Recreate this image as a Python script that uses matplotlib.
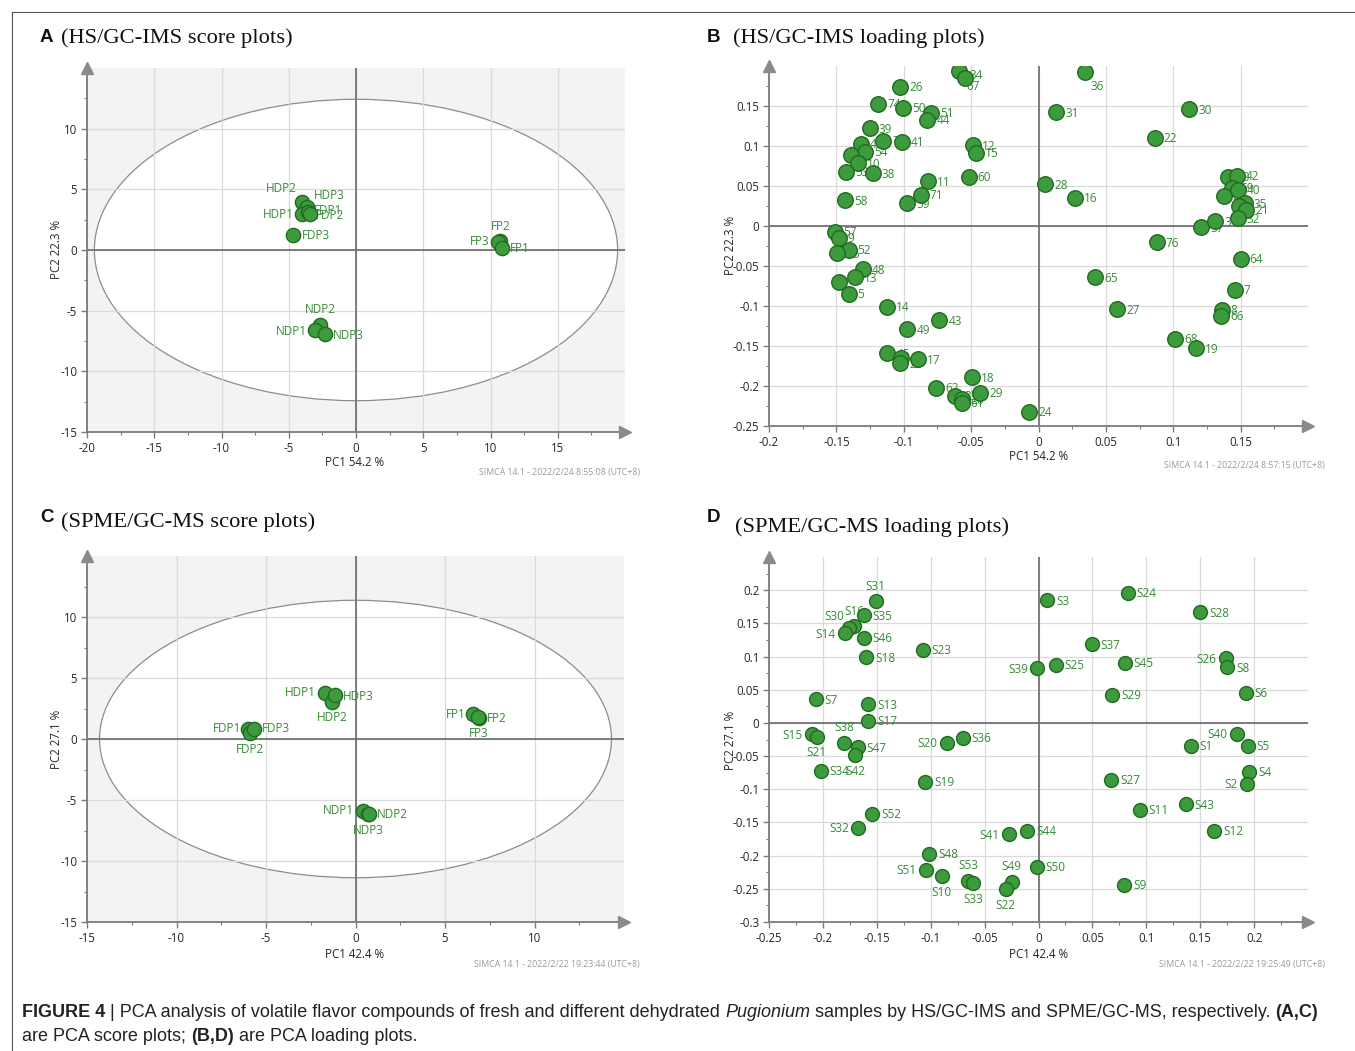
import matplotlib
matplotlib.use('Agg')
import matplotlib.pyplot as plt
from matplotlib.patches import Ellipse
from matplotlib.ticker import FixedLocator, FuncFormatter, AutoMinorLocator
from matplotlib import font_manager

plt.rcParams['axes.unicode_minus'] = False

W, H = 1355, 1051

# ---------------- data ----------------
# Panel A: HS/GC-IMS scores
A_labels = ['HDP2', 'HDP3', 'HDP1', 'FDP1', 'FDP2', 'FDP3', 'FP2', 'FP3', 'FP1', 'NDP2', 'NDP1', 'NDP3']
A_x = [-4.04, -3.62, -4.04, -3.55, -3.45, -4.66, 10.72, 10.55, 10.84, -2.65, -3.03, -2.30]
A_y = [3.96, 3.57, 2.94, 3.15, 2.95, 1.24, 0.74, 0.69, 0.19, -6.18, -6.62, -6.95]

# Panel B: HS/GC-IMS loadings
B_labels = ['34', '67', '26', '74', '50', '51', '44', '39', '78', '41', '46', '54', '56', '10',
            '53', '38', '58', '11', '71', '59', '12', '15', '60', '57', '9', '52', '55', '48',
            '13', '4', '5', '14', '43', '49', '45', '47', '23', '17', '18', '62', '29', '33',
            '20', '61', '24', '36', '31', '30', '22', '28', '16', '76', '37', '3', '70', '42',
            '69', '40', '2', '35', '1', '21', '32', '64', '65', '7', '27', '8', '66', '68', '19']
B_x = [-0.0587, -0.0545, -0.1025, -0.1190, -0.1003, -0.0797, -0.0825, -0.1253, -0.1154, -0.1013,
       -0.1320, -0.1288, -0.1395, -0.1342, -0.1426, -0.1231, -0.1434, -0.0820, -0.0874, -0.0978,
       -0.0488, -0.0466, -0.0518, -0.1513, -0.1484, -0.1410, -0.1495, -0.1305, -0.1365, -0.1478,
       -0.1409, -0.1127, -0.0736, -0.0973, -0.1122, -0.1018, -0.1028, -0.0894, -0.0493, -0.0760,
       -0.0431, -0.0619, -0.0570, -0.0570, -0.0070, 0.0344, 0.0131, 0.1117, 0.0864, 0.0050,
       0.0270, 0.0879, 0.1206, 0.1313, 0.1404, 0.1471, 0.1434, 0.1481, 0.1374, 0.1530,
       0.1488, 0.1543, 0.1478, 0.1500, 0.0421, 0.1456, 0.0585, 0.1360, 0.1357, 0.1015, 0.1171]
B_y = [0.1940, 0.1846, 0.1740, 0.1530, 0.1480, 0.1417, 0.1325, 0.1220, 0.1067, 0.1054,
       0.1030, 0.0929, 0.0888, 0.0783, 0.0675, 0.0658, 0.0321, 0.0558, 0.0390, 0.0283,
       0.1010, 0.0917, 0.0617, -0.0071, -0.0146, -0.0300, -0.0338, -0.0538, -0.0642, -0.0696,
       -0.0850, -0.1008, -0.1180, -0.1288, -0.1590, -0.1646, -0.1717, -0.1667, -0.1890, -0.2020,
       -0.2083, -0.2125, -0.2167, -0.2210, -0.2320, 0.1920, 0.1420, 0.1458, 0.1104, 0.0520,
       0.0354, -0.0204, -0.0017, 0.0062, 0.0617, 0.0629, 0.0479, 0.0450, 0.0375, 0.0283,
       0.0254, 0.0200, 0.0096, -0.0410, -0.0638, -0.0800, -0.1042, -0.1050, -0.1125, -0.1408, -0.1530]

# Panel C: SPME/GC-MS scores
C_labels = ['HDP1', 'HDP2', 'HDP3', 'FDP1', 'FDP2', 'FDP3', 'FP1', 'FP3', 'FP2', 'NDP1', 'NDP3', 'NDP2']
C_x = [-1.72, -1.32, -1.15, -6.00, -5.90, -5.67, 6.58, 6.90, 6.87, 0.44, 0.70, 0.73]
C_y = [3.80, 3.06, 3.60, 0.82, 0.46, 0.82, 2.02, 1.75, 1.80, -5.87, -6.17, -6.12]

# Panel D: SPME/GC-MS loadings
D_labels = ['S31', 'S35', 'S16', 'S30', 'S14', 'S46', 'S18', 'S23', 'S39', 'S7', 'S13', 'S17',
            'S15', 'S21', 'S38', 'S47', 'S42', 'S34', 'S20', 'S36', 'S19', 'S52', 'S32', 'S41',
            'S44', 'S48', 'S51', 'S10', 'S53', 'S33', 'S49', 'S22', 'S50', 'S3', 'S24', 'S28',
            'S37', 'S25', 'S45', 'S29', 'S26', 'S8', 'S6', 'S40', 'S1', 'S5', 'S4', 'S2', 'S27',
            'S11', 'S43', 'S12', 'S9']
D_x = [-0.1512, -0.1623, -0.1707, -0.1760, -0.1797, -0.1623, -0.1598, -0.1073, -0.0016, -0.2066,
       -0.1580, -0.1580, -0.2103, -0.2057, -0.1800, -0.1679, -0.1698, -0.2019, -0.0850, -0.0702,
       -0.1051, -0.1543, -0.1673, -0.0275, -0.0105, -0.1014, -0.1045, -0.0897, -0.0652, -0.0603,
       -0.0250, -0.0306, -0.0016, 0.0083, 0.0826, 0.1497, 0.0495, 0.0158, 0.0798, 0.0686,
       0.1735, 0.1753, 0.1923, 0.1837, 0.1413, 0.1942, 0.1957, 0.1932, 0.0674, 0.0940,
       0.1364, 0.1630, 0.0792]
D_y = [0.1833, 0.1626, 0.1466, 0.1426, 0.1350, 0.1280, 0.0990, 0.1100, 0.0823, 0.0357,
       0.0281, 0.0035, -0.0170, -0.0206, -0.0296, -0.0366, -0.0482, -0.0723, -0.0296, -0.0221,
       -0.0884, -0.1370, -0.1580, -0.1680, -0.1627, -0.1968, -0.2210, -0.2309, -0.2375, -0.2415,
       -0.2390, -0.2505, -0.2164, 0.1848, 0.1963, 0.1667, 0.1185, 0.0878, 0.0908, 0.0427,
       0.0974, 0.0838, 0.0457, -0.0166, -0.0346, -0.0346, -0.0738, -0.0919, -0.0853, -0.1310,
       -0.1225, -0.1627, -0.2435]

# ---------------- label placement (pixel offsets, alignment) ----------------
R = (9, -1, 'left')
L = (-9, -1, 'right')
U = (0, 15, 'center')
Dn = (0, -16, 'center')

A_pos = {'HDP2': (-5, 13, 'right'), 'HDP3': (7, 11, 'left'), 'HDP1': (-8, 0, 'right'),
         'FDP1': (6, 1, 'left'), 'FDP2': (6, -1, 'left'), 'FDP3': (9, -1, 'left'),
         'FP2': (1, 15, 'center'), 'FP3': (-8, 0, 'right'), 'FP1': (8, -1, 'left'),
         'NDP2': (0, 15, 'center'), 'NDP1': (-8, -1, 'right'), 'NDP3': (8, -1, 'left')}
C_pos = {'HDP1': (-9, 0, 'right'), 'HDP3': (8, -1, 'left'), 'HDP2': (0, -16, 'center'),
         'FDP1': (-7, 0, 'right'), 'FDP3': (8, 0, 'left'), 'FDP2': (0, -16, 'center'),
         'FP1': (-8, 0, 'right'), 'FP2': (8, -1, 'left'), 'FP3': (0, -16, 'center'),
         'NDP1': (-9, 0, 'right'), 'NDP2': (8, -1, 'left'), 'NDP3': (0, -16, 'center')}
B_pos = {'36': (6, -14, 'left'), '34': (10, -5, 'left'), '67': (1, -8, 'left')}
D_pos = {'S31': U, 'S16': (0, 14, 'center'), 'S30': (-5, 12, 'right'), 'S14': L, 'S39': L,
         'S15': L, 'S21': Dn, 'S38': U, 'S42': (0, -17, 'center'), 'S20': L, 'S32': L,
         'S41': L, 'S51': L, 'S10': Dn, 'S53': U, 'S33': Dn, 'S49': U, 'S22': Dn,
         'S26': L, 'S40': L, 'S2': L}

# ---------------- style ----------------
FILL = '#3d9a3d'
EDGE = '#216b21'
TXT_G = '#378a37'
GRID = '#dadada'
AXC = '#7b7b7b'
SANS = ['Open Sans', 'DejaVu Sans']


def fx(px):
    return px / W


def fy(py):
    return 1 - py / H


fig = plt.figure(figsize=(W / 100, H / 100), dpi=100)


def fmt(v, pos):
    return '%g' % round(v, 4)


def make_axes(rect_px, xlim, ylim, xticks, yticks, gray, ellipse=None):
    x0, y0, x1, y1 = rect_px
    ax = fig.add_axes([fx(x0), fy(y1), (x1 - x0) / W, (y1 - y0) / H])
    ax.set_xlim(*xlim)
    ax.set_ylim(*ylim)
    ax.set_facecolor('#f3f3f3' if gray else 'white')
    if ellipse is not None:
        e = Ellipse((0, 0), 2 * ellipse[0], 2 * ellipse[1], facecolor='white',
                    edgecolor='#8c8c8c', lw=0.9, zorder=0.5)
        ax.add_patch(e)
    ax.xaxis.set_major_locator(FixedLocator(xticks))
    ax.yaxis.set_major_locator(FixedLocator(yticks))
    ax.xaxis.set_minor_locator(AutoMinorLocator(2))
    ax.yaxis.set_minor_locator(AutoMinorLocator(2))
    ax.xaxis.set_major_formatter(FuncFormatter(fmt))
    ax.yaxis.set_major_formatter(FuncFormatter(fmt))
    ax.grid(True, which='major', color=GRID, lw=0.9, zorder=0.8)
    ax.set_axisbelow(True)
    for s in ['top', 'right']:
        ax.spines[s].set_visible(False)
    for s in ['left', 'bottom']:
        ax.spines[s].set_color(AXC)
        ax.spines[s].set_linewidth(1.3)
    ax.tick_params(which='major', length=4, width=1, color=AXC, labelsize=8.3,
                   labelcolor='#262626', pad=3)
    ax.tick_params(which='minor', length=2.5, width=0.8, color=AXC)
    for lab in ax.get_xticklabels() + ax.get_yticklabels():
        lab.set_family(SANS)
    ax.axhline(0, color='#6a6a6a', lw=1.2, zorder=1)
    ax.axvline(0, color='#6a6a6a', lw=1.2, zorder=1)
    ax.plot([1.0], [0], marker='>', ms=8, color='#8a8a8a', transform=ax.transAxes,
            clip_on=False, zorder=5)
    ax.plot([0], [1.0], marker='^', ms=8, color='#8a8a8a', transform=ax.transAxes,
            clip_on=False, zorder=5)
    return ax


def draw_points(ax, labels, xs, ys, pos, size):
    ax.scatter(xs, ys, s=size, facecolor=FILL, edgecolor=EDGE, linewidth=1.0, zorder=3)
    for lab, x, y in zip(labels, xs, ys):
        dx, dy, ha = pos.get(lab, R)
        ax.annotate(lab, (x, y), xytext=(dx, dy), textcoords='offset pixels', ha=ha,
                    va='center', fontsize=8.5, color=TXT_G, family=SANS, zorder=2.5)


# Panel A
axA = make_axes((87, 68, 625, 432), (-20, 20), (-15, 15), [-20, -15, -10, -5, 0, 5, 10, 15],
                [-15, -10, -5, 0, 5, 10], True, ellipse=(19.45, 12.42))
draw_points(axA, A_labels, A_x, A_y, A_pos, 105)

# Panel B
axB = make_axes((769, 66, 1308, 426), (-0.2, 0.2), (-0.25, 0.2),
                [-0.2, -0.15, -0.1, -0.05, 0, 0.05, 0.1, 0.15],
                [-0.25, -0.2, -0.15, -0.1, -0.05, 0, 0.05, 0.1, 0.15], False)
draw_points(axB, B_labels, B_x, B_y, B_pos, 125)

# Panel C
axC = make_axes((87, 556, 624, 922), (-15, 15), (-15, 15), [-15, -10, -5, 0, 5, 10],
                [-15, -10, -5, 0, 5, 10], True, ellipse=(14.3, 11.37))
draw_points(axC, C_labels, C_x, C_y, C_pos, 105)

# Panel D
axD = make_axes((769, 557, 1308, 922), (-0.25, 0.25), (-0.3, 0.25),
                [-0.25, -0.2, -0.15, -0.1, -0.05, 0, 0.05, 0.1, 0.15, 0.2],
                [-0.3, -0.25, -0.2, -0.15, -0.1, -0.05, 0, 0.05, 0.1, 0.15, 0.2], False)
draw_points(axD, D_labels, D_x, D_y, D_pos, 100)

# axis labels
for (xl, xpx, ypx) in [('PC1 54.2 %', 355, 463), ('PC1 54.2 %', 1039, 457),
                       ('PC1 42.4 %', 355, 955), ('PC1 42.4 %', 1039, 955)]:
    fig.text(fx(xpx), fy(ypx), xl, ha='center', va='center', fontsize=8.3, color='#262626', family=SANS)
for (yl, xpx, ypx) in [('PC2 22.3 %', 57, 249), ('PC2 22.3 %', 731, 245),
                       ('PC2 27.1 %', 57, 739), ('PC2 27.1 %', 731, 740)]:
    fig.text(fx(xpx), fy(ypx), yl, ha='center', va='center', rotation=90, fontsize=8.3,
             color='#262626', family=SANS)

# footers
for (ft, xpx, ypx) in [('SIMCA 14.1 - 2022/2/24 8:55:08 (UTC+8)', 640, 473),
                       ('SIMCA 14.1 - 2022/2/24 8:57:15 (UTC+8)', 1325, 466),
                       ('SIMCA 14.1 - 2022/2/22 19:23:44 (UTC+8)', 640, 965),
                       ('SIMCA 14.1 - 2022/2/22 19:25:49 (UTC+8)', 1325, 965)]:
    fig.text(fx(xpx), fy(ypx), ft, ha='right', va='center', fontsize=6.3, color='#9a9a9a', family=SANS)

# panel titles
SERIF = ['Liberation Serif', 'DejaVu Serif']
BOLDS = ['Liberation Sans', 'DejaVu Sans']
for (letter, lx, ly, title, tx, ty) in [('A', 40, 38, '(HS/GC-IMS score plots)', 61, 38),
                                         ('B', 707, 38, '(HS/GC-IMS loading plots)', 733, 38),
                                         ('C', 40, 517, '(SPME/GC-MS score plots)', 61, 522),
                                         ('D', 707, 517, '(SPME/GC-MS loading plots)', 735, 527)]:
    fig.text(fx(lx), fy(ly), letter, ha='left', va='center', fontsize=13.5, fontweight='bold',
             family=BOLDS, color='#111111')
    fig.text(fx(tx), fy(ty), title, ha='left', va='center', fontsize=16.2, family=SERIF, color='#111111')

# frame lines
fig.add_artist(plt.Line2D([fx(12), 1], [fy(12), fy(12)], color='#555555', lw=0.8))
fig.add_artist(plt.Line2D([fx(12), fx(12)], [fy(12), 0], color='#555555', lw=0.8))

# caption
names = {f.name for f in font_manager.fontManager.ttflist}
CAPF = ['Liberation Sans Narrow'] if 'Liberation Sans Narrow' in names else ['Liberation Sans']
renderer = fig.canvas.get_renderer()


def run_width(txt, size, weight, style):
    t1 = fig.text(0, 0, txt + '|', fontsize=size, fontweight=weight, fontstyle=style, family=CAPF)
    t2 = fig.text(0, 0, '|', fontsize=size, fontweight=weight, fontstyle=style, family=CAPF)
    w = t1.get_window_extent(renderer).width - t2.get_window_extent(renderer).width
    t1.remove()
    t2.remove()
    return w


line1 = [('FIGURE 4', 'bold', 'normal'), (' | PCA analysis of volatile flavor compounds of fresh and different dehydrated ', 'normal', 'normal'),
         ('Pugionium', 'normal', 'italic'), (' samples by HS/GC-IMS and SPME/GC-MS, respectively. ', 'normal', 'normal'),
         ('(A,C)', 'bold', 'normal')]
line2 = [('are PCA score plots; ', 'normal', 'normal'), ('(B,D)', 'bold', 'normal'),
         (' are PCA loading plots.', 'normal', 'normal')]

base = 12.5
tot = sum(run_width(t, base, w, s) for t, w, s in line1)
size = base * 1300 / tot
if size > 13:
    size = 13


def draw_line(runs, x_px, y_px):
    x = x_px
    for t, w, s in runs:
        fig.text(fx(x), fy(y_px), t, fontsize=size, fontweight=w, fontstyle=s, family=CAPF,
                 va='baseline', ha='left', color='#222222')
        x += run_width(t, size, w, s)


draw_line(line1, 22, 1017)
draw_line(line2, 22, 1041)

fig.savefig('out.png', dpi=100)
